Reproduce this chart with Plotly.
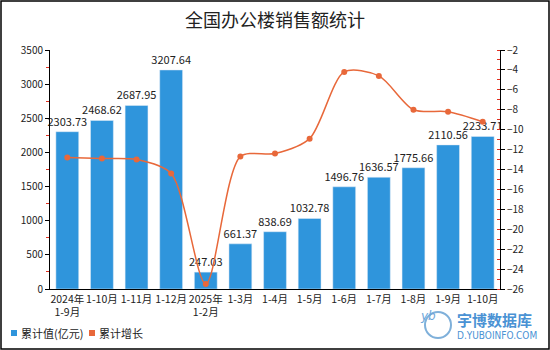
import plotly.graph_objects as go

# 累计销售额（亿元）与累计增长（%）
categories = ["2024年<br>1-9月", "1-10月", "1-11月", "1-12月", "2025年<br>1-2月",
              "1-3月", "1-4月", "1-5月", "1-6月", "1-7月", "1-8月", "1-9月", "1-10月"]
sales = [2303.73, 2468.62, 2687.95, 3207.64, 247.03, 661.37, 838.69,
         1032.78, 1496.76, 1636.57, 1775.66, 2110.56, 2233.71]
growth = [-12.8, -12.9, -13.0, -14.4, -25.5, -12.7, -12.4,
          -10.9, -4.2, -4.6, -8.0, -8.2, -9.2]
series_names = ["累计值(亿元)", "累计增长"]

left_ticks = [0, 500, 1000, 1500, 2000, 2500, 3000, 3500]
right_ticks = list(range(-26, 0, 2))

BAR = "#2f95dc"
LINE = "#e8683a"
MARK = "#4a92d4"
FONT = "Noto Sans CJK SC"

W, H = 550, 350
ML, MR, MT, MB = 50, 50, 50, 61
PW, PH = W - ML - MR, H - MT - MB


def px(x):
    """像素横坐标 -> paper 坐标"""
    return (x - ML) / PW


def py(y):
    """像素纵坐标 -> paper 坐标"""
    return 1 - (y - MT) / PH


# 月份标签有重复（两个年度的 1-9月、1-10月），横轴用序号定位
xpos = list(range(len(categories)))

fig = go.Figure()
fig.add_trace(go.Bar(
    x=xpos, y=sales, name=series_names[0], marker_color=BAR,
    text=[f"{v:.2f}" for v in sales], textposition="outside",
    textfont=dict(size=11, color="#222"), cliponaxis=False,
    constraintext="none", showlegend=False,
))
fig.add_trace(go.Scatter(
    x=xpos, y=growth, name=series_names[1], yaxis="y2",
    mode="lines+markers", line=dict(color=LINE, width=1.5, shape="spline", smoothing=0.8),
    marker=dict(color=LINE, size=6), showlegend=False,
))

axis_common = dict(
    showgrid=False, zeroline=False, showline=True, linecolor="black", linewidth=1,
    ticks="outside", tickcolor="black", ticklen=4, tickfont=dict(size=10, color="#222"),
)

# 底部图例：色块 + 文字
legend_items = [(series_names[0], BAR, 11), (series_names[1], LINE, 89)]
legend_shapes, legend_notes = [], []
for name, color, x0 in legend_items:
    legend_shapes.append(dict(
        type="rect", xref="paper", yref="paper",
        x0=px(x0), x1=px(x0 + 6), y0=py(336), y1=py(330),
        fillcolor=color, line=dict(width=0)))
    legend_notes.append(dict(
        text=name, x=px(x0 + 8), y=py(333), xref="paper", yref="paper",
        xanchor="left", yanchor="middle", showarrow=False,
        font=dict(size=11, color="#222")))

fig.update_layout(
    width=W, height=H,
    margin=dict(l=ML, r=MR, t=MT, b=MB),
    paper_bgcolor="white", plot_bgcolor="white",
    font=dict(family=FONT, color="#222"),
    title=dict(text="全国办公楼销售额统计", x=0.5, xanchor="center", y=1 - 21 / H,
               yanchor="middle", font=dict(size=18, color="#222")),
    bargap=0.34,
    showlegend=False,
    xaxis=dict(showgrid=False, showline=True, linecolor="black", ticks="",
               tickvals=xpos, ticktext=categories, range=[-0.5, len(categories) - 0.5],
               tickfont=dict(size=10.5, color="#222"), tickangle=0),
    yaxis=dict(range=[0, 3500], tickvals=left_ticks, **axis_common,
               minor=dict(ticks="outside", tickcolor="#e03020", ticklen=3, dtick=250)),
    yaxis2=dict(range=[-26, -2], tickvals=right_ticks + [-2], overlaying="y", side="right",
                **axis_common,
                minor=dict(ticks="inside", tickcolor="#e03020", ticklen=3, dtick=1)),
    shapes=[
        dict(type="rect", xref="paper", yref="paper",
             x0=px(1), x1=px(W - 1), y0=py(H - 1), y1=py(1),
             line=dict(color="black", width=1.5), layer="above"),
        dict(type="circle", xref="paper", yref="paper",
             x0=px(425), x1=px(451), y0=py(338), y1=py(312),
             line=dict(color="#7fb0da", width=2)),
    ] + legend_shapes,
    annotations=[
        dict(text="<i>yb</i>", x=px(438), y=py(325), xref="paper", yref="paper",
             showarrow=False, font=dict(size=12, color="#6fa6d8", family="DejaVu Sans")),
        dict(text="<b>宇博数据库</b>", x=px(455), y=py(319), xref="paper",
             yref="paper", xanchor="left", yanchor="middle", showarrow=False,
             font=dict(size=15, color=MARK)),
        dict(text="D.YUBOINFO.COM", x=px(455), y=py(335), xref="paper",
             yref="paper", xanchor="left", yanchor="middle", showarrow=False,
             font=dict(size=10, color=MARK, family="DejaVu Sans Condensed")),
    ] + legend_notes,
)

fig.write_html("out.html")
